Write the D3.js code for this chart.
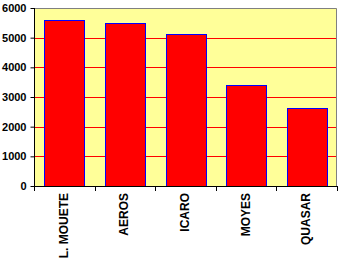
<!DOCTYPE html>
<html><head><meta charset="utf-8">
<script src="https://cdn.jsdelivr.net/npm/d3@7"></script>
<style>html,body{margin:0;padding:0;background:#fff;}svg{display:block;}</style>
</head><body>
<script>
const categories = ["L. MOUETE", "AEROS", "ICARO", "MOYES", "QUASAR"];
const values = [5585, 5490, 5110, 3400, 2620];
const yTicks = [0, 1000, 2000, 3000, 4000, 5000, 6000];

const W = 340, H = 260;
const m = {left: 34, right: 3, top: 8, bottom: 74};
const svg = d3.select("body").append("svg").attr("width", W).attr("height", H);
const x = d3.scaleBand().domain(categories).range([m.left, W - m.right]).paddingInner(0.34).paddingOuter(0.17);
const y = d3.scaleLinear().domain([0, 6000]).range([H - m.bottom, m.top]);

svg.append("rect").attr("x", m.left).attr("y", m.top)
  .attr("width", W - m.right - m.left).attr("height", y(0) - m.top)
  .attr("fill", "#FFFF99");

svg.append("g").selectAll("line").data(yTicks.filter(d => d > 0 && d < 6000)).join("line")
  .attr("x1", m.left).attr("x2", W - m.right)
  .attr("y1", d => Math.round(y(d)) + 0.5).attr("y2", d => Math.round(y(d)) + 0.5)
  .attr("stroke", "#FF0000").attr("stroke-width", 1);

// top and right border
svg.append("path")
  .attr("d", `M${m.left},${m.top + 0.5}H${W - m.right - 0.5}V${y(0)}`)
  .attr("fill", "none").attr("stroke", "#808080").attr("stroke-width", 1);

svg.append("g").selectAll("rect").data(values).join("rect")
  .attr("x", (d, i) => Math.round(x(categories[i])) + 0.5)
  .attr("y", d => Math.round(y(d)) + 0.5)
  .attr("width", Math.round(x.bandwidth()))
  .attr("height", d => Math.round(y(0)) - Math.round(y(d)))
  .attr("fill", "#FF0000").attr("stroke", "#0000FF").attr("stroke-width", 1);

const yAxis = svg.append("g").attr("transform", `translate(${m.left + 0.5},0)`)
  .call(d3.axisLeft(y).tickValues(yTicks).tickSize(4).tickPadding(4).tickFormat(d3.format("d")));
yAxis.select(".domain").attr("stroke", "#000").attr("d", `M0,${m.top}V${y(0)}`);
yAxis.selectAll(".tick line").attr("stroke", "#000");
yAxis.selectAll("text").attr("font-family", "Liberation Sans, Arial, sans-serif")
  .attr("font-size", 11).attr("font-weight", "bold").attr("fill", "#000");

// x axis with ticks at category boundaries
const xg = svg.append("g");
xg.append("line").attr("x1", m.left).attr("x2", W - m.right)
  .attr("y1", Math.round(y(0)) + 0.5).attr("y2", Math.round(y(0)) + 0.5).attr("stroke", "#000");
const step = x.step();
const bounds = d3.range(categories.length + 1).map(i => m.left + i * step);
xg.selectAll("line.t").data(bounds).join("line").attr("class", "t")
  .attr("x1", d => Math.round(d) + 0.5).attr("x2", d => Math.round(d) + 0.5)
  .attr("y1", Math.round(y(0))).attr("y2", Math.round(y(0)) + 5).attr("stroke", "#000");

xg.selectAll("text").data(categories).join("text")
  .attr("transform", d => `translate(${x(d) + x.bandwidth() / 2 + 3.5},${y(0) + 7}) rotate(-90)`)
  .attr("text-anchor", "end")
  .attr("font-family", "Liberation Sans, Arial, sans-serif")
  .attr("font-size", 12).attr("font-weight", "bold").attr("fill", "#000")
  .text(d => d);
</script>
</body></html>
